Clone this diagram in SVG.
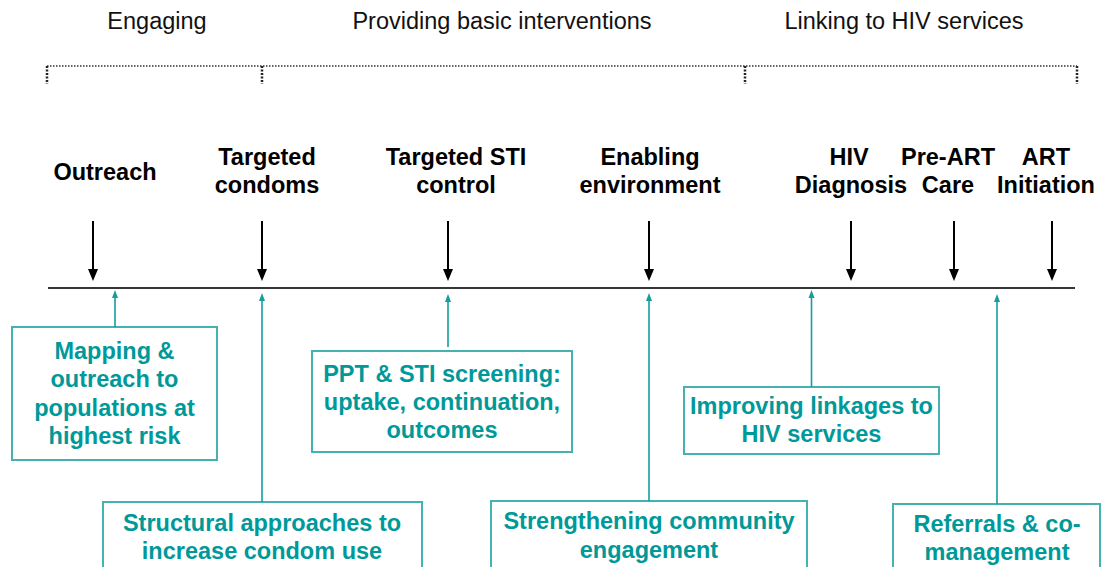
<svg xmlns="http://www.w3.org/2000/svg" width="1102" height="567" viewBox="0 0 1102 567">
  <style>
    .phase { font-family: "Liberation Sans", Arial, sans-serif; font-size: 23.5px; fill: #111; text-anchor: middle; }
    .step { font-family: "Liberation Sans", Arial, sans-serif; font-size: 23.5px; font-weight: bold; fill: #000; text-anchor: middle; }
    .act { font-family: "Liberation Sans", Arial, sans-serif; font-size: 23.5px; font-weight: bold; fill: #009999; text-anchor: middle; }
    .box { fill: #fff; stroke: #45b1b1; stroke-width: 2; }
    .bracket { fill: none; stroke: #333; stroke-width: 1.5; stroke-dasharray: 1.5 1.5; }
    .tick { fill: none; stroke: #222; stroke-width: 2.5; stroke-dasharray: 2 1.5; }
    .down { stroke: #000; stroke-width: 2; marker-end: url(#ah); }
    .up { stroke: #159e9e; stroke-width: 1.6; marker-end: url(#th); }
  </style>
  <defs>
    <marker id="ah" markerUnits="userSpaceOnUse" markerWidth="12" markerHeight="12" viewBox="0 0 12 12" refX="1" refY="6" orient="auto">
      <path d="M0,1 L12,6 L0,11 z" fill="#000"/>
    </marker>
    <marker id="th" markerUnits="userSpaceOnUse" markerWidth="8" markerHeight="8" viewBox="0 0 8 8" refX="1" refY="4" orient="auto">
      <path d="M0,1 L8,4 L0,7 z" fill="#159e9e"/>
    </marker>
  </defs>

  <!-- phase headings -->
  <g id="phases">
    <text class="phase" x="157" y="29">Engaging</text>
    <text class="phase" x="502" y="29">Providing basic interventions</text>
    <text class="phase" x="904" y="29">Linking to HIV services</text>
  </g>

  <!-- dotted bracket spanning the phases -->
  <g id="bracket">
    <line class="bracket" x1="47" y1="66" x2="1077" y2="66"/>
    <line class="tick" x1="47" y1="66" x2="47" y2="84"/>
    <line class="tick" x1="262" y1="66" x2="262" y2="84"/>
    <line class="tick" x1="745" y1="66" x2="745" y2="84"/>
    <line class="tick" x1="1077" y1="66" x2="1077" y2="84"/>
  </g>

  <!-- timeline -->
  <line id="timeline" x1="48" y1="288" x2="1075" y2="288" stroke="#363636" stroke-width="2.2"/>

  <!-- cascade steps -->
  <g id="step-outreach"><text class="step" x="105" y="180">Outreach</text></g>
  <g id="step-condoms"><text class="step" x="267" y="165">Targeted</text><text class="step" x="267" y="193">condoms</text></g>
  <g id="step-sti"><text class="step" x="456" y="165">Targeted STI</text><text class="step" x="456" y="193">control</text></g>
  <g id="step-enabling"><text class="step" x="650" y="165">Enabling</text><text class="step" x="650" y="193">environment</text></g>
  <g id="step-diagnosis"><text class="step" x="849" y="165">HIV</text><text class="step" x="851" y="193">Diagnosis</text></g>
  <g id="step-preart"><text class="step" x="948" y="165">Pre-ART</text><text class="step" x="948" y="193">Care</text></g>
  <g id="step-art"><text class="step" x="1046" y="165">ART</text><text class="step" x="1046" y="193">Initiation</text></g>

  <!-- activity boxes -->
  <g id="box-mapping">
    <rect class="box" x="12" y="327" width="205" height="133"/>
    <text class="act" x="114.5" y="359">Mapping &amp;</text>
    <text class="act" x="114.5" y="387">outreach to</text>
    <text class="act" x="114.5" y="416">populations at</text>
    <text class="act" x="114.5" y="444">highest risk</text>
  </g>
  <g id="box-structural">
    <rect class="box" x="103" y="502" width="319" height="72"/>
    <text class="act" x="262" y="531">Structural approaches to</text>
    <text class="act" x="262" y="559">increase condom use</text>
  </g>
  <g id="box-ppt">
    <rect class="box" x="312" y="351" width="260" height="101"/>
    <text class="act" x="442" y="382">PPT &amp; STI screening:</text>
    <text class="act" x="442" y="410">uptake, continuation,</text>
    <text class="act" x="442" y="438">outcomes</text>
  </g>
  <g id="box-community">
    <rect class="box" x="491" y="501" width="316" height="72"/>
    <text class="act" x="649" y="529">Strengthening community</text>
    <text class="act" x="649" y="558">engagement</text>
  </g>
  <g id="box-linkages">
    <rect class="box" x="684" y="387" width="255" height="67"/>
    <text class="act" x="811.5" y="414">Improving linkages to</text>
    <text class="act" x="811.5" y="442">HIV services</text>
  </g>
  <g id="box-referrals">
    <rect class="box" x="893" y="504" width="207" height="72"/>
    <text class="act" x="997" y="532">Referrals &amp; co-</text>
    <text class="act" x="997" y="560">management</text>
  </g>

  <!-- connectors -->
  <g id="connectors">
    <line class="down" x1="93" y1="221" x2="93" y2="270"/>
    <line class="down" x1="262" y1="221" x2="262" y2="270"/>
    <line class="down" x1="448" y1="221" x2="448" y2="270"/>
    <line class="down" x1="649" y1="221" x2="649" y2="270"/>
    <line class="down" x1="851" y1="221" x2="851" y2="270"/>
    <line class="down" x1="954" y1="221" x2="954" y2="270"/>
    <line class="down" x1="1052" y1="221" x2="1052" y2="270"/>

    <line class="up" x1="115" y1="327" x2="115" y2="297"/>
    <line class="up" x1="262" y1="502" x2="262" y2="300"/>
    <line class="up" x1="448" y1="347" x2="448" y2="301"/>
    <line class="up" x1="649" y1="501" x2="649" y2="300"/>
    <line class="up" x1="811.5" y1="387" x2="811.5" y2="297"/>
    <line class="up" x1="997" y1="504" x2="997" y2="301"/>
  </g>
</svg>
